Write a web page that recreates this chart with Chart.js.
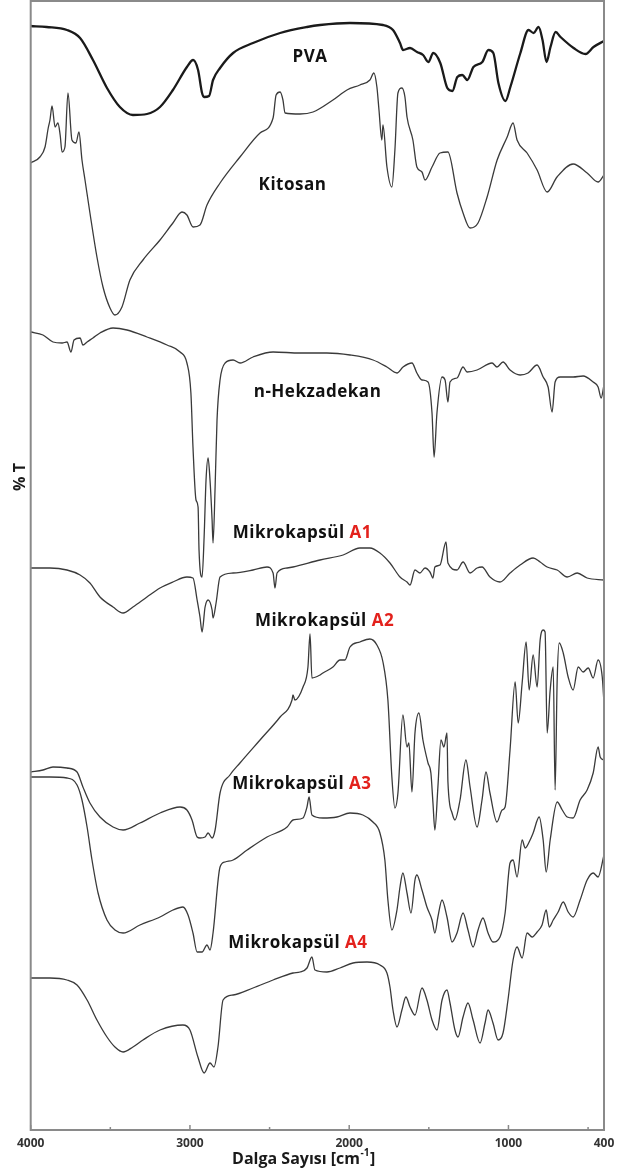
<!DOCTYPE html>
<html>
<head>
<meta charset="utf-8">
<script src="https://cdn.jsdelivr.net/npm/chart.js@4.4.1/dist/chart.umd.min.js"></script>
<style>
  html, body { margin: 0; padding: 0; background: #fff; }
  #wrap { width: 625px; height: 1171px; }
</style>
</head>
<body>
<div id="wrap"><canvas id="c" width="625" height="1171"></canvas></div>
<script>
// Wavenumber axis ticks (cm-1)
const majorTicks = [4000, 3000, 2000, 1000, 400];
const minorTicks = [3500, 2500, 1500, 500];

// FTIR spectra: [wavenumber, %T (stacked, arbitrary offset)]
const pva = [[4000,110.4],[3900,110.3],[3772,110.0],[3690,109.2],[3609,107.0],[3521,104.2],[3440,102.3],[3358,101.5],[3270,101.6],[3188,102.3],[3107,104.0],[3019,106.3],[2980,107.0],[2949,106.0],[2924,103.7],[2911,103.3],[2880,103.4],[2855,105.0],[2811,106.2],[2729,107.7],[2604,108.7],[2434,109.7],[2265,110.3],[2183,110.5],[1995,110.7],[1788,110.5],[1725,110.0],[1681,108.7],[1662,108.0],[1618,108.2],[1574,107.8],[1536,107.5],[1503,106.8],[1472,107.7],[1428,106.7],[1384,104.2],[1352,103.9],[1321,105.3],[1290,105.5],[1258,105.0],[1220,106.3],[1164,106.8],[1126,108.0],[1095,107.7],[1063,104.7],[1019,102.9],[988,104.3],[925,107.7],[874,110.0],[842,109.7],[811,110.3],[786,109.0],[761,106.8],[736,108.3],[704,109.8],[673,109.3],[591,108.2],[516,107.6],[466,108.3],[400,108.9]];

const kitosan = [[4000,96.7],[3942,97.3],[3910,98.3],[3890,100.2],[3879,101.0],[3866,102.4],[3847,100.3],[3829,100.7],[3815,99.5],[3803,97.8],[3785,98.3],[3766,103.7],[3741,99.0],[3716,98.7],[3697,99.8],[3678,97.0],[3659,95.0],[3628,91.7],[3584,87.3],[3546,84.3],[3502,82.2],[3471,81.5],[3427,82.3],[3377,85.0],[3295,87.0],[3188,89.0],[3107,90.7],[3050,91.8],[3019,91.5],[2980,90.3],[2937,90.5],[2893,92.5],[2811,94.7],[2686,97.3],[2560,99.7],[2478,101.2],[2459,103.5],[2434,103.8],[2416,103.0],[2403,101.7],[2309,101.6],[2227,101.8],[2102,103.0],[2014,104.0],[1933,104.5],[1870,105.0],[1845,105.7],[1826,104.3],[1813,102.0],[1795,99.0],[1788,100.5],[1763,96.3],[1732,94.3],[1713,98.0],[1694,103.7],[1669,104.2],[1650,103.3],[1637,101.3],[1600,99.0],[1575,96.3],[1543,95.8],[1524,95.0],[1480,96.3],[1430,97.7],[1380,97.8],[1323,93.7],[1285,91.7],[1241,90.2],[1191,90.7],[1134,93.3],[1071,97.0],[1008,99.3],[971,100.7],[946,99.0],[883,97.7],[820,96.0],[757,93.8],[695,95.3],[594,96.6],[506,95.7],[437,94.8],[400,95.5]];

const hekzadekan = [[4000,79.8],[3923,79.5],[3860,78.8],[3803,78.7],[3772,78.8],[3747,77.8],[3728,79.0],[3690,79.2],[3672,78.5],[3646,78.8],[3609,79.2],[3565,79.7],[3483,80.2],[3395,80.0],[3270,79.3],[3144,78.5],[3062,77.8],[3019,76.7],[2994,73.7],[2981,68.3],[2962,63.0],[2949,62.3],[2943,58.0],[2924,55.3],[2911,59.3],[2899,65.0],[2886,67.2],[2874,65.0],[2861,61.0],[2855,58.7],[2842,64.3],[2830,71.0],[2811,75.0],[2779,76.7],[2729,77.0],[2685,76.7],[2604,77.3],[2478,77.8],[2309,77.7],[2140,77.7],[1995,77.5],[1850,77.0],[1763,76.3],[1700,75.7],[1662,76.3],[1606,76.7],[1575,75.7],[1543,75.0],[1505,74.8],[1480,71.7],[1467,67.3],[1449,71.7],[1417,75.3],[1398,75.0],[1380,72.8],[1367,74.8],[1323,75.2],[1285,76.3],[1260,75.8],[1197,76.0],[1103,76.7],[1072,76.3],[1034,76.8],[990,76.0],[927,75.5],[877,75.7],[820,76.5],[782,75.3],[751,74.3],[726,71.8],[707,74.8],[676,75.3],[594,75.3],[531,75.4],[468,74.8],[437,74.3],[418,73.2],[400,74.5]];

const kapsulA1 = [[4000,56.2],[3879,56.2],[3772,56.0],[3690,55.5],[3628,54.7],[3565,53.3],[3483,52.3],[3420,51.7],[3358,52.3],[3270,53.3],[3188,54.2],[3107,54.8],[3019,55.3],[2981,55.2],[2955,53.0],[2937,51.3],[2924,49.8],[2905,52.3],[2886,53.0],[2861,52.0],[2855,51.2],[2836,52.7],[2811,55.3],[2729,55.7],[2604,56.0],[2516,56.3],[2478,55.7],[2466,54.2],[2453,55.7],[2390,56.2],[2353,56.3],[2183,57.0],[2038,57.5],[1933,58.2],[1870,58.2],[1807,57.7],[1744,56.7],[1681,55.3],[1637,54.8],[1618,54.5],[1587,56.0],[1556,55.7],[1524,56.2],[1493,55.8],[1474,55.2],[1462,56.3],[1430,56.5],[1392,58.8],[1380,56.7],[1323,56.0],[1285,56.8],[1241,55.7],[1197,56.2],[1166,56.3],[1116,55.3],[1053,54.8],[990,55.7],[927,56.5],[845,57.2],[801,56.8],[757,56.3],[694,56.0],[631,55.3],[568,55.7],[506,55.2],[400,55.0]];

const kapsulA2 = [[4000,35.8],[3923,36.0],[3860,36.3],[3772,36.2],[3709,35.8],[3672,34.3],[3628,32.7],[3565,31.3],[3483,30.3],[3420,30.0],[3314,30.7],[3188,31.7],[3062,32.3],[3019,32.0],[2987,31.0],[2955,29.3],[2937,29.2],[2905,29.3],[2886,29.7],[2861,29.2],[2842,30.0],[2811,33.7],[2749,35.5],[2686,36.7],[2560,39.0],[2434,41.3],[2359,43.0],[2353,43.5],[2341,43.0],[2290,44.3],[2259,46.3],[2246,49.6],[2234,45.2],[2183,45.5],[2165,45.7],[2102,46.3],[2058,47.0],[2027,47.0],[1995,48.3],[1933,48.8],[1870,49.1],[1826,48.5],[1788,46.8],[1757,43.0],[1732,35.3],[1713,32.2],[1694,33.7],[1663,41.5],[1637,38.3],[1625,38.7],[1606,33.8],[1587,39.7],[1562,41.7],[1537,39.0],[1505,36.7],[1487,35.7],[1474,32.7],[1462,30.0],[1443,34.3],[1424,39.0],[1405,38.3],[1386,39.7],[1380,34.8],[1354,31.7],[1336,31.0],[1304,33.0],[1267,37.0],[1241,34.3],[1197,30.3],[1166,33.0],[1141,35.8],[1116,33.7],[1072,30.8],[1040,32.0],[1021,32.3],[990,38.0],[958,44.8],[939,40.7],[914,44.7],[889,48.8],[870,44.0],[845,47.5],[820,44.3],[801,49.0],[782,50.0],[770,49.8],[757,39.7],[738,44.0],[719,46.3],[707,34.0],[694,45.0],[681,48.7],[656,47.7],[625,45.3],[594,44.0],[562,46.3],[531,45.8],[499,46.2],[468,45.2],[437,47.0],[411,45.3],[400,42.7]];

const kapsulA3 = [[4000,35.3],[3879,35.3],[3772,35.2],[3709,34.5],[3678,33.0],[3646,30.3],[3615,27.0],[3577,23.7],[3521,21.0],[3471,20.0],[3420,19.7],[3314,20.5],[3188,21.3],[3107,22.0],[3044,22.3],[3012,21.5],[2981,19.7],[2955,17.8],[2924,17.8],[2893,18.5],[2874,18.0],[2855,19.7],[2811,26.3],[2779,26.8],[2729,27.0],[2641,28.0],[2516,29.3],[2390,30.3],[2353,31.0],[2290,31.2],[2265,32.3],[2252,33.3],[2234,31.5],[2165,31.2],[2077,31.3],[1995,31.7],[1914,31.5],[1851,30.8],[1807,29.7],[1776,27.0],[1757,23.0],[1732,20.0],[1700,22.0],[1681,24.3],[1663,25.7],[1637,23.7],[1612,21.7],[1587,25.0],[1575,25.5],[1543,24.0],[1512,22.3],[1480,21.0],[1462,19.7],[1443,21.3],[1417,23.0],[1386,21.3],[1354,18.8],[1323,19.7],[1285,21.7],[1254,20.0],[1222,18.3],[1191,20.0],[1160,21.2],[1128,19.7],[1097,18.8],[1053,19.3],[1021,21.7],[990,26.7],[971,27.0],[946,25.3],[914,29.0],[895,28.2],[864,29.0],[845,29.7],[807,31.3],[782,29.0],[763,25.8],[738,29.0],[694,32.8],[662,32.0],[631,31.3],[594,31.2],[550,33.0],[506,34.0],[468,35.7],[437,38.3],[424,37.3],[400,37.0]];

const kapsulA4 = [[4000,15.2],[3879,15.2],[3772,15.0],[3709,14.5],[3646,13.0],[3584,11.0],[3521,9.3],[3471,8.3],[3420,7.8],[3358,8.3],[3295,9.0],[3188,10.0],[3044,10.5],[3000,10.0],[2950,7.3],[2911,5.7],[2874,6.7],[2849,6.3],[2824,8.3],[2792,13.0],[2729,13.5],[2604,14.2],[2478,15.0],[2353,15.7],[2309,15.8],[2265,16.2],[2234,17.3],[2215,16.0],[2140,15.8],[2058,16.2],[1976,16.7],[1888,16.8],[1807,16.5],[1763,15.7],[1744,14.3],[1725,12.0],[1700,10.3],[1669,12.0],[1644,13.3],[1618,12.3],[1587,11.5],[1543,14.2],[1512,13.0],[1480,11.0],[1449,10.0],[1417,13.0],[1386,14.0],[1367,12.7],[1336,10.0],[1317,9.3],[1285,11.3],[1254,12.7],[1222,11.0],[1178,8.7],[1147,10.7],[1128,12.0],[1097,10.7],[1065,9.0],[1034,9.7],[1003,13.0],[971,17.0],[946,18.3],[914,17.2],[883,19.7],[851,19.3],[820,19.8],[789,20.5],[763,22.0],[744,20.3],[719,21.0],[688,21.8],[656,22.8],[625,21.8],[594,21.3],[550,23.0],[506,25.0],[468,25.7],[437,25.3],[400,27.5]];

// Curve names drawn next to each spectrum, anchored in data units
const curveLabels = [
  { text: 'PVA', tag: '', wn: 2246, t: 107.3 },
  { text: 'Kitosan', tag: '', wn: 2356, t: 94.5 },
  { text: 'n-Hekzadekan', tag: '', wn: 2199, t: 73.8 },
  { text: 'Mikrokapsül', tag: 'A1', wn: 2294, t: 59.7 },
  { text: 'Mikrokapsül', tag: 'A2', wn: 2155, t: 50.9 },
  { text: 'Mikrokapsül', tag: 'A3', wn: 2297, t: 34.6 },
  { text: 'Mikrokapsül', tag: 'A4', wn: 2322, t: 18.7 }
];

const toXY = arr => arr.map(([x, y]) => ({ x, y }));
const thin = { borderColor: '#3a3a3a', borderWidth: 1.3 };

const spectra = [
  { data: toXY(pva), borderColor: '#1a1a1a', borderWidth: 2.3 },
  { data: toXY(kitosan), ...thin },
  { data: toXY(hekzadekan), ...thin },
  { data: toXY(kapsulA1), ...thin },
  { data: toXY(kapsulA2), ...thin },
  { data: toXY(kapsulA3), ...thin },
  { data: toXY(kapsulA4), ...thin }
];

// Frame, inward tick marks, curve names and axis titles
const decorations = {
  id: 'decorations',
  afterDatasetsDraw(chart) {
    const { ctx, chartArea: a, scales: { x, y } } = chart;
    ctx.save();
    ctx.strokeStyle = '#8a8a8a';
    ctx.lineWidth = 2;
    ctx.strokeRect(a.left, a.top, a.right - a.left, a.bottom - a.top);

    ctx.lineWidth = 1.5;
    const marks = majorTicks.map(v => [v, 5]).concat(minorTicks.map(v => [v, 3]));
    marks.forEach(([v, len]) => {
      const px = x.getPixelForValue(v);
      ctx.beginPath();
      ctx.moveTo(px, a.bottom);
      ctx.lineTo(px, a.bottom - len);
      ctx.stroke();
    });

    ctx.font = 'bold 17px "Open Sans"';
    ctx.letterSpacing = '0.5px';
    ctx.textBaseline = 'middle';
    ctx.textAlign = 'left';
    curveLabels.forEach(l => {
      const main = l.tag ? l.text + ' ' : l.text;
      const w1 = ctx.measureText(main).width;
      const w2 = l.tag ? ctx.measureText(l.tag).width : 0;
      const sx = x.getPixelForValue(l.wn) - (w1 + w2) / 2;
      const sy = y.getPixelForValue(l.t);
      ctx.fillStyle = '#111';
      ctx.fillText(main, sx, sy);
      if (l.tag) {
        ctx.fillStyle = '#e3211c';
        ctx.fillText(l.tag, sx + w1, sy);
      }
    });
    ctx.letterSpacing = '0px';

    // x title with superscript unit
    ctx.fillStyle = '#1a1a1a';
    ctx.font = 'bold 16px "Open Sans"';
    const t1 = 'Dalga Sayısı [cm', sup = '-1', t3 = ']';
    const w1 = ctx.measureText(t1).width;
    ctx.font = 'bold 10px "Open Sans"';
    const w2 = ctx.measureText(sup).width;
    ctx.font = 'bold 16px "Open Sans"';
    const w3 = ctx.measureText(t3).width;
    const cx = x.getPixelForValue(2286);
    const sx = cx - (w1 + w2 + w3 + 1) / 2;
    const ty = a.bottom + 29;
    ctx.fillText(t1, sx, ty);
    ctx.font = 'bold 10px "Open Sans"';
    ctx.fillText(sup, sx + w1 + 0.5, ty - 6);
    ctx.font = 'bold 16px "Open Sans"';
    ctx.fillText(t3, sx + w1 + w2 + 1, ty);

    // y title
    ctx.save();
    ctx.translate(a.left - 10, y.getPixelForValue(65.3));
    ctx.rotate(-Math.PI / 2);
    ctx.textAlign = 'center';
    ctx.font = 'bold 16px "Open Sans"';
    ctx.fillText('% T', 0, 0);
    ctx.restore();

    ctx.restore();
  }
};

new Chart(document.getElementById('c'), {
  type: 'line',
  data: { datasets: spectra.map(s => ({ ...s, pointRadius: 0, fill: false, cubicInterpolationMode: 'monotone' })) },
  options: {
    responsive: false,
    animation: false,
    events: [],
    layout: { padding: { top: 1, right: 21, left: 0, bottom: 0 } },
    plugins: { legend: { display: false }, tooltip: { enabled: false } },
    scales: {
      x: {
        type: 'linear',
        reverse: true,
        min: 400,
        max: 4000,
        grid: { display: false, drawTicks: false },
        border: { display: false },
        afterBuildTicks: s => { s.ticks = majorTicks.concat(minorTicks).sort((p, q) => q - p).map(v => ({ value: v })); },
        afterFit: s => { s.height = 41; },
        ticks: {
          autoSkip: false,
          maxRotation: 0,
          padding: 6,
          color: '#333',
          font: { family: '"Open Sans"', weight: 'bold', size: 12 },
          callback: v => (majorTicks.includes(v) ? String(v) : '')
        }
      },
      y: {
        min: 0,
        max: 112.9,
        grid: { display: false },
        border: { display: false },
        ticks: { display: false },
        afterFit: s => { s.width = 30.7; }
      }
    }
  },
  plugins: [decorations]
});
</script>
</body>
</html>
